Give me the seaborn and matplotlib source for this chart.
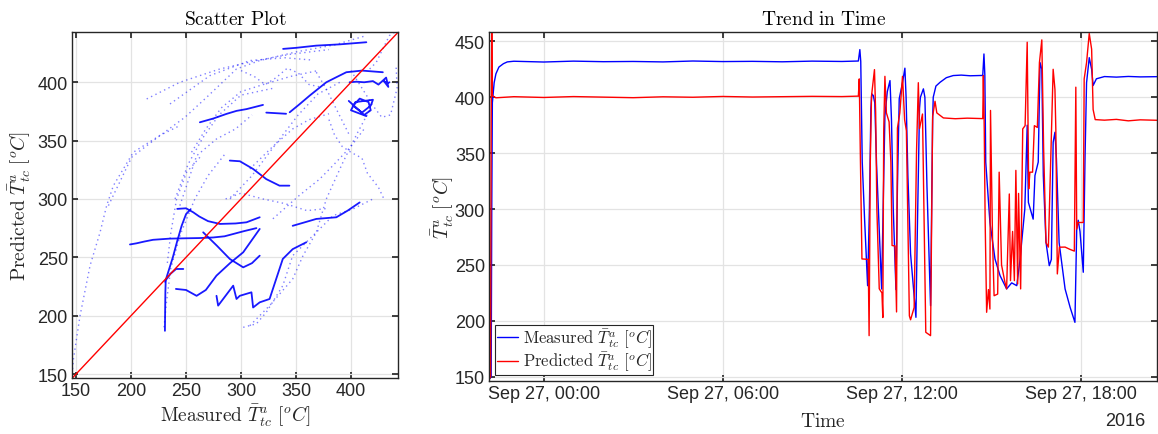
import numpy as np
import pandas as pd
import matplotlib
matplotlib.use("Agg")
import matplotlib.pyplot as plt
import matplotlib.dates as mdates
import seaborn as sns

# ---------------- DATA ----------------
# Time series (hours relative to 2016-09-27 00:00)
meas_t = [-1.82, -1.76, -1.74, -1.72, -1.70, -1.66, -1.60, -1.50, -1.35, -1.22, -1.00,
          0, 1, 2, 3, 4, 5, 6, 7, 8, 9, 10, 10.55, 10.60, 10.63, 10.68, 10.76, 10.86,
          10.92, 10.97, 11.00, 11.05, 11.10, 11.16, 11.33, 11.38, 11.44, 11.52, 11.61,
          11.66, 11.72, 11.81, 11.86, 11.92, 12.03, 12.11, 12.15, 12.21, 12.30, 12.48,
          12.52, 12.60, 12.63, 12.73, 12.78, 12.85, 12.97, 13.04, 13.06, 13.15, 13.29,
          13.50, 13.73, 14.00, 14.30, 14.72, 14.76, 14.79, 14.82, 14.96, 15.13, 15.30,
          15.52, 15.69, 15.86, 15.97, 16.13, 16.21, 16.25, 16.41, 16.47, 16.58, 16.64,
          16.70, 16.75, 16.84, 16.95, 17.02, 17.08, 17.14, 17.19, 17.28, 17.48, 17.65,
          17.81, 17.87, 17.92, 17.98, 18.09, 18.15, 18.20, 18.29, 18.37, 18.42, 18.53,
          18.80, 19.20, 19.60, 20.00, 20.56]
meas_v = [148, 150, 300, 395, 401, 413, 421, 427, 430, 431.6, 432.2,
          431.5, 432.3, 431.8, 432.0, 431.6, 432.4, 431.9, 432.1, 431.7, 432.3, 432.0, 432.4, 442.6, 432, 342, 290, 231.5,
          300, 390, 403, 401.5, 395, 340, 228.5, 300, 383.5, 405, 414.9,
          380, 300, 228, 320, 398.7, 413, 426, 400, 330, 260, 203.2,
          270.3, 390, 400, 407.5, 400, 320, 213.6, 380, 400, 410, 413.4,
          417.5, 419.4, 419.8, 419.2, 419.5, 438.7, 420, 342, 288.2, 255.4, 240.5,
          228.6, 234, 231.5, 255, 300.1, 375, 306, 291, 330, 342, 431,
          425, 330, 270.3, 249.4, 255, 359.7, 368.7, 345, 270, 228.6, 212,
          198.7, 282, 290, 280, 243.5, 348, 413, 435.4, 425, 410.5, 416.5,
          418.5, 418.0, 418.6, 418.2, 418.4]

pred_t = [-1.82, -1.78, -1.76, -1.74, -1.72, -1.60, -1.00, 0, 1, 2, 3, 4, 5, 6, 7, 8, 9, 10,
          10.55, 10.58, 10.62, 10.67, 10.88, 10.91, 10.95, 10.99, 11.09, 11.13, 11.17, 11.25,
          11.34, 11.37, 11.40, 11.44, 11.49, 11.58, 11.64, 11.68, 11.78, 11.83, 11.86, 11.94,
          12.03, 12.10, 12.16, 12.26, 12.30, 12.42, 12.50, 12.56, 12.60, 12.70, 12.81, 12.97,
          13.04, 13.12, 13.18, 13.40, 13.80, 14.20, 14.72, 14.74, 14.77, 14.80, 14.85, 14.91,
          14.96, 14.98, 15.05, 15.10, 15.22, 15.27, 15.35, 15.46, 15.52, 15.61, 15.65, 15.72,
          15.78, 15.83, 15.89, 15.92, 15.99, 16.06, 16.14, 16.21, 16.26, 16.30, 16.39, 16.45,
          16.55, 16.62, 16.70, 16.76, 16.84, 16.92, 17.08, 17.14, 17.17, 17.22, 17.29, 17.48,
          17.64, 17.79, 17.84, 17.87, 17.92, 18.09, 18.12, 18.20, 18.29, 18.37, 18.42, 18.49,
          18.80, 19.20, 19.60, 20.00, 20.56]
pred_v = [148, 150, 380, 458, 401.4, 399.5, 400.5, 399.8, 400.6, 400.1, 399.6, 400.4, 400.0, 400.7, 400.2, 400.5, 400.8, 400.6,
          401, 416.4, 342, 255.4, 255, 186.8, 342, 400.9, 424.7, 386, 300, 228.7,
          225, 203, 370, 418.7, 386, 378, 342, 267.4, 267, 208, 372.5, 386,
          418.7, 380, 370, 204.5, 201, 212, 351.6, 413, 372, 385, 189.8, 186.8,
          383, 396.4, 386, 381.5, 380.8, 381.3, 380.9, 419.4, 371.7, 290, 207.7, 228,
          210.6, 388.2, 270, 222.5, 224, 333, 250, 235, 228.6, 313.5, 236, 280,
          236, 334.6, 233, 314, 228.6, 371.7, 374.6, 449.2, 318, 333, 333, 374.6,
          373, 431, 451.3, 355, 270, 266, 425, 407, 371, 242, 265.9, 266,
          264, 262.4, 409, 282, 288, 288, 416.4, 431, 457, 443, 389, 380,
          379.5, 380.2, 378.9, 379.8, 379.4]

# Scatter plot trajectories (measured, predicted)
# dense trajectories
dense_a = [(199, 261), (205, 262), (212, 263.5), (220, 265), (235, 266), (250, 266.3), (262, 266.5),
           (274.7, 267), (285, 268), (293, 270), (303, 272.5), (314, 275)]
dense_b = [(231, 229), (234, 238), (238, 250), (242, 264), (246, 277), (250, 287), (254, 291)]
dense_c = [(232, 231), (236, 236), (241, 240), (247.5, 240)]
dense_d = [(240.8, 222.9), (250, 222), (259.6, 217), (268, 222), (277.7, 234.3), (290, 245), (302, 254.3), (317, 274.3)]
dense_e = [(242, 291.5), (250, 292), (256.5, 288.6), (262, 285), (270, 281), (280.8, 278.6), (295, 279), (305, 280), (317, 284.3)]
dense_f = [(277.7, 217), (279.2, 208.6), (292.9, 225.7), (295.9, 214.3), (298.9, 217), (309.5, 220),
           (311, 207), (317, 211.4), (326, 214.3), (338, 248.6), (347, 257), (359.4, 262.9)]
dense_g = [(230.8, 187), (231, 205), (231.2, 220), (231.5, 230)]
dense_h = [(262.6, 365.7), (275, 369), (286.8, 372.9), (296, 375.5), (305, 377), (320, 380.6)]
dense_i = [(323, 374), (332, 373.5), (341, 373)]
dense_j = [(289.8, 332.9), (299, 332.3), (311, 325.7), (323, 317), (335, 311.4), (344, 311.4)]
dense_k = [(344.3, 374.3), (353, 381), (362.5, 388.6), (377.6, 400), (386, 404), (395.8, 408.6), (410, 410), (429, 408.6)]
dense_l = [(338.3, 428.6), (350, 429.5), (368.5, 431.4), (390, 432.5), (414, 434.3)]
dense_m = [(347, 277), (358, 280), (368.5, 282.9), (386.7, 284.3), (397, 290), (407.9, 297)]
dense_n = [(398, 384), (405, 378), (412, 372), (418, 376), (416, 383), (408, 386), (402, 380),
           (410, 374), (418, 380), (420, 385), (404, 383), (400, 376), (414, 371)]
dense_o = [(398.8, 400), (405, 400.5), (412, 400), (420, 401), (425, 398), (432, 404), (434, 396),
           (430, 401), (433, 399), (435, 400)]
dense_p = [(265.6, 271.4), (278, 260), (289.8, 248.6), (302, 241.4), (310, 245), (317, 251.4)]

# sparse (dotted) trajectories
sparse_a = [(146.5, 150), (147.6, 162.9), (153.6, 200), (162.7, 242.9), (171.8, 271.4), (177.8, 294.3),
            (183.9, 311.4), (202, 340), (226, 354.3), (244.4, 362.9)]
sparse_b = [(179.4, 294.3), (200.5, 335.7), (226.3, 354.3), (249, 370), (268.6, 387), (295.9, 411.4), (317, 418.6),
            (350, 426), (385, 432), (414, 440)]
sparse_c = [(214.2, 385.7), (244.4, 400), (280.8, 411.4), (314, 418.6), (345, 424), (380, 428)]
sparse_d = [(235.4, 381.4), (271.7, 405.7), (308, 418.6), (340, 421), (365, 419)]
sparse_e = [(308, 191.4), (326, 208.6), (347, 231.4), (356.4, 251.4), (368.5, 271.4), (377.6, 300),
            (392, 330), (405, 355), (418, 378)]
sparse_f = [(302, 190), (314, 193), (323, 202.9), (338, 225.7), (347, 251.4), (368.5, 271.4),
            (383.7, 285.7), (401.8, 291.4), (420, 300)]
sparse_g = [(368.5, 408.6), (377.6, 394.3), (386.7, 377), (395.8, 360), (398.8, 354.3)]
sparse_h = [(244.4, 294.3), (259.6, 337), (277.7, 351.4), (295, 360), (310, 372)]
sparse_i = [(262.6, 335.7), (250.5, 322.9), (241.4, 300), (236, 270), (233, 245)]
sparse_j = [(417, 411.4), (423, 417), (429, 428.6), (435, 440), (440, 443)]
sparse_k = [(308, 325.7), (329, 345), (347, 360), (362, 368), (380, 373)]
sparse_l = [(329, 283), (353, 303), (371.5, 317), (384, 329), (400, 345), (412, 360)]
sparse_m = [(290, 300), (310, 320), (330, 345), (352, 372), (370, 390), (390, 400)]
sparse_n = [(230, 190), (232, 210), (236, 240), (245, 270), (258, 300), (270, 320), (285, 338)]
sparse_o = [(400, 410), (410, 395), (420, 380), (428, 370), (436, 372), (442, 395), (441, 415)]
sparse_p = [(286, 300), (300, 305), (320, 300), (340, 296), (360, 290), (380, 292)]
sparse_q = [(380, 368), (385, 355), (392, 345), (400, 340), (410, 335), (415, 322), (425, 310), (430, 300)]
sparse_r = [(255, 340), (268, 360), (282, 378), (300, 392), (320, 398), (345, 405), (370, 410)]
sparse_s = [(240, 300), (252, 330), (265, 352), (280, 372), (300, 389), (330, 395)]
sparse_t = [(300, 410), (312, 405), (322, 398), (332, 404), (342, 412), (352, 408), (362, 398), (372, 396)]

leg_meas = r"$\mathrm{Measured}\ \bar{T}^{a}_{tc}\ [^{o}C]$"
leg_pred = r"$\mathrm{Predicted}\ \bar{T}^{a}_{tc}\ [^{o}C]$"
x_ticks_hours = [0, 6, 12, 18]
val_ticks = [150, 200, 250, 300, 350, 400, 450]

# ---------------- STYLE ----------------
sns.set_theme(style="whitegrid")
plt.rcParams.update({
    "font.family": ["Liberation Sans", "DejaVu Sans"],
    "mathtext.fontset": "cm",
    "axes.edgecolor": "#262626",
    "axes.linewidth": 1.0,
    "grid.color": "#e3e3e3",
    "grid.linewidth": 0.9,
    "xtick.direction": "in",
    "ytick.direction": "in",
    "xtick.color": "#262626",
    "ytick.color": "#262626",
    "xtick.labelcolor": "#262626",
    "ytick.labelcolor": "#262626",
    "xtick.major.size": 4,
    "ytick.major.size": 4,
    "xtick.top": True,
    "ytick.right": True,
    "xtick.bottom": True,
    "ytick.left": True,
    "axes.facecolor": "white",
})

fig = plt.figure(figsize=(11.58, 4.35), dpi=100)
ax1 = fig.add_axes([0.0622, 0.128, 0.2815, 0.7954])
ax2 = fig.add_axes([0.4225, 0.1225, 0.5766, 0.801])

BLUE = (0, 0, 1)
RED = (1, 0, 0)

# ---------- scatter plot ----------
sparse_list = [sparse_a, sparse_b, sparse_c, sparse_d, sparse_e, sparse_f, sparse_g, sparse_h,
               sparse_i, sparse_j, sparse_k, sparse_l, sparse_m, sparse_n, sparse_o, sparse_p,
               sparse_q, sparse_r, sparse_s, sparse_t]
for tr in sparse_list:
    xs, ys = zip(*tr)
    sns.lineplot(x=list(xs), y=list(ys), sort=False, estimator=None, ax=ax1, color=BLUE,
                 linewidth=1.0, alpha=0.5, linestyle=(0, (1, 2.5)))
dense_list = [dense_a, dense_b, dense_c, dense_d, dense_e, dense_f, dense_g, dense_h, dense_i,
              dense_j, dense_k, dense_l, dense_m, dense_n, dense_o, dense_p]
for tr in dense_list:
    xs, ys = zip(*tr)
    sns.lineplot(x=list(xs), y=list(ys), sort=False, estimator=None, ax=ax1, color=BLUE,
                 linewidth=1.3, alpha=0.9)

lims = (146.3, 442.8)
sns.lineplot(x=list(lims), y=list(lims), ax=ax1, color=RED, linewidth=1.0)
ax1.set_xlim(lims)
ax1.set_ylim(lims)
ax1.set_xticks(val_ticks[:-1])
ax1.set_yticks(val_ticks[:-1])
ax1.tick_params(labelsize=13, pad=3)
ax1.set_title(r"$\mathrm{Scatter\ Plot}$", fontsize=14, color="#000000", pad=6)
ax1.set_xlabel(leg_meas, fontsize=14, color="#262626", va="center")
ax1.xaxis.set_label_coords(0.5, -0.106)
ax1.set_ylabel(leg_pred, fontsize=14, color="#262626", va="center")
ax1.yaxis.set_label_coords(-0.16, 0.5)
for s in ax1.spines.values():
    s.set_visible(True)
    s.set_color("#262626")

# ---------- time trend ----------
t0 = pd.Timestamp("2016-09-27 00:00")
meas_time = t0 + pd.to_timedelta(meas_t, unit="h")
pred_time = t0 + pd.to_timedelta(pred_t, unit="h")
sns.lineplot(x=meas_time, y=meas_v, sort=False, estimator=None, ax=ax2, color=BLUE,
             linewidth=1.0, label=leg_meas)
sns.lineplot(x=pred_time, y=pred_v, sort=False, estimator=None, ax=ax2, color=RED,
             linewidth=1.0, label=leg_pred)
ax2.set_xlim(t0 + pd.Timedelta(hours=-1.824), t0 + pd.Timedelta(hours=20.56))
ax2.set_ylim(146.5, 458.1)
ax2.set_yticks(val_ticks)
ax2.set_xticks([t0 + pd.Timedelta(hours=h) for h in x_ticks_hours])
ax2.xaxis.set_major_formatter(mdates.DateFormatter("%b %d, %H:%M"))
ax2.tick_params(labelsize=13, pad=3)
ax2.set_title(r"$\mathrm{Trend\ in\ Time}$", fontsize=14, color="#000000", pad=6)
ax2.set_xlabel(r"$\mathrm{Time}$", fontsize=14, color="#262626", va="center")
ax2.xaxis.set_label_coords(0.5, -0.115)
ax2.set_ylabel(r"$\bar{T}^{a}_{tc}\ [^{o}C]$", fontsize=14, color="#262626", va="center")
ax2.yaxis.set_label_coords(-0.069, 0.5)
ax2.text(0.983, -0.115, "2016", transform=ax2.transAxes, ha="right", va="center",
         fontsize=13, color="#262626")
for s in ax2.spines.values():
    s.set_visible(True)
    s.set_color("#262626")
leg = ax2.legend(loc="lower left", bbox_to_anchor=(0.0, 0.0), fontsize=12, frameon=True,
                 fancybox=False, edgecolor="#262626", framealpha=1, handlelength=1.3,
                 handletextpad=0.25, borderpad=0.1, labelspacing=0.0, borderaxespad=0.35)
leg.get_frame().set_linewidth(0.8)

fig.savefig("out.png", dpi=100)
